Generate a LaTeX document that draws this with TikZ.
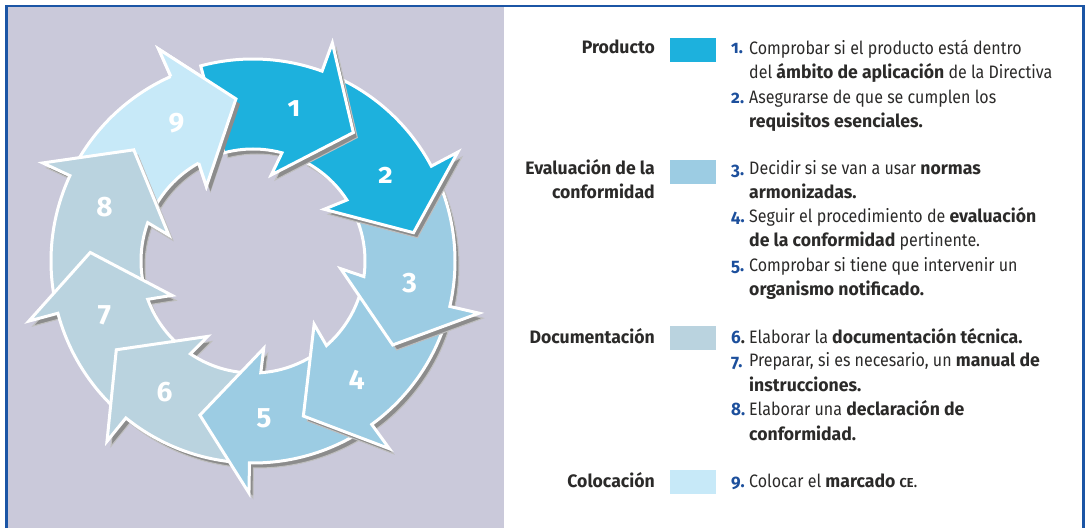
\documentclass[tikz,border=0pt]{standalone}
\usepackage{fontspec}
\setmainfont{Fira Sans}[FakeStretch=0.89]
\newfontfamily\strongfont{Fira Sans}[FakeStretch=0.98]
\newfontfamily\numfont{Fira Sans}[Numbers=OldStyle,FakeStretch=0.95]
\newfontfamily\ringfont{Fira Sans}[Numbers=OldStyle]
\newcommand{\boldwide}[1]{{\strongfont\bfseries #1}}
\usepackage{xcolor}
\usetikzlibrary{calc}

\definecolor{panelgray}{HTML}{CAC9DA}
\definecolor{frameblue}{HTML}{1B55A5}
\definecolor{numblue}{HTML}{1C4F9C}
\definecolor{txt}{HTML}{2B2A29}
\definecolor{stepA}{HTML}{1DB1DD}
\definecolor{stepB}{HTML}{9CCCE3}
\definecolor{stepC}{HTML}{BAD3DF}
\definecolor{stepD}{HTML}{C7E9F8}

\begin{document}
\begin{tikzpicture}[x=1pt,y=1pt,
   ringshape/.style={insert path={(#1+30:112pt) -- (#1+30:202pt)
      arc[start angle=#1+30,end angle=#1-5,radius=202pt] -- (#1-5:232pt)
      -- (#1-23:163pt) -- (#1+3:88pt) -- (#1:112pt)
      arc[start angle=#1,end angle=#1+30,radius=112pt] -- cycle}},
   headshape/.style={insert path={(#1-5:202pt) -- (#1-5:232pt)
      -- (#1-23:163pt) -- (#1+3:88pt) -- (#1:112pt) -- cycle}},
   headedge/.style={insert path={(#1-5:202pt) -- (#1-5:232pt)
      -- (#1-23:163pt) -- (#1+3:88pt) -- (#1:112pt)}},
   arrowpiece/.style={draw=white,line width=3pt,line join=miter},
   shadowpiece/.style={fill=black!45,draw=black!25,line width=1pt,shift={(4,-5)}},
   ringnum/.style={text=white,font=\ringfont\bfseries\fontsize{28}{28}\selectfont},
   cat/.style={anchor=base east,align=right,inner sep=0pt,text=txt,
      font=\strongfont\bfseries\fontsize{18}{24.2}\selectfont},
   swatch/.style={minimum width=46pt,minimum height=24pt,inner sep=0pt},
   num/.style={anchor=base west,inner sep=0pt,text=numblue,
      font=\numfont\bfseries\fontsize{18}{24.2}\selectfont},
   item/.style={anchor=base west,align=left,inner sep=0pt,text=txt,
      font=\fontsize{18}{24.2}\selectfont}]
\useasboundingbox (0,0) rectangle (1088,528);
% panel and frame
\fill[panelgray] (7,0) rectangle (504,521);
\draw[frameblue,line width=2.5pt] (6.3,0) -- (6.3,522) -- (1083.5,522) -- (1083.5,0);

% ring of steps
\begin{scope}[shift={(253,267)}]
\foreach \k/\c/\col in {9/-241/stepD,8/-200/stepC,7/-160/stepC,6/-124/stepC,
      5/-86/stepB,4/-49/stepB,3/-8/stepB,2/33/stepA,1/75/stepA}{
   \path[shadowpiece,ringshape=\c];
   \path[arrowpiece,fill=\col,ringshape=\c];
}
% head of 9 lies over the tail of 1
\path[shadowpiece,draw=none,headshape=-241];
\path[fill=stepD,headshape=-241];
\path[arrowpiece,headedge=-241];
\foreach \k/\c in {1/75,2/33,3/-8,4/-49,5/-86,6/-124,7/-160,8/-200,9/-241}
   \node[ringnum] (step\k) at (\c:158pt) {\k};
\end{scope}

% legend
\node[cat] (catprod) at (655,474) {Producto};
\node[swatch,fill=stepA] (swprod) at (693,478) {};
\node[num] (n1) at (731,474) {1.};
\node[item] (t1) at (749,449) {Comprobar si el producto está dentro\\
   del \boldwide{ámbito de aplicación} de la Directiva};
\node[num] (n2) at (731,424) {2.};
\node[item] (t2) at (749,400) {Asegurarse de que se cumplen los\\
   \boldwide{requisitos esenciales.}};

\node[cat] (cateval) at (655,329) {Evaluación de la\\conformidad};
\node[swatch,fill=stepB] (sweval) at (693,356) {};
\node[num] (n3) at (731,352) {3.};
\node[item] (t3) at (749,329) {Decidir si se van a usar \boldwide{normas}\\
   \boldwide{armonizadas.}};
\node[num] (n4) at (731,305) {4.};
\node[item] (t4) at (749,281) {Seguir el procedimiento de \boldwide{evaluación}\\
   \boldwide{de la conformidad} pertinente.};
\node[num] (n5) at (731,256) {5.};
\node[item] (t5) at (749,232) {Comprobar si tiene que intervenir un\\
   \boldwide{organismo notificado.}};

\node[cat] (catdoc) at (655,184) {Documentación};
\node[swatch,fill=stepC] (swdoc) at (693,189.5) {};
\node[num] (n6) at (731,184) {6\textcolor{txt}{.}};
\node[item] (t6) at (749,184) {Elaborar la \boldwide{documentación técnica.}};
\node[num] (n7) at (731,160) {7.};
\node[item] (t7) at (749,137) {Preparar, si es necesario, un \boldwide{manual de}\\
   \boldwide{instrucciones.}};
\node[num] (n8) at (731,112) {8.};
\node[item] (t8) at (749,88) {Elaborar una \boldwide{declaración de}\\
   \boldwide{conformidad.}};

\node[cat] (catcol) at (655,41) {Colocación};
\node[swatch,fill=stepD] (swcol) at (693,46) {};
\node[num] (n9) at (731,41) {9.};
\node[item] (t9) at (749,41) {Colocar el \boldwide{marcado {\fontsize{13}{13}\selectfont CE}}.};
\end{tikzpicture}
\end{document}
